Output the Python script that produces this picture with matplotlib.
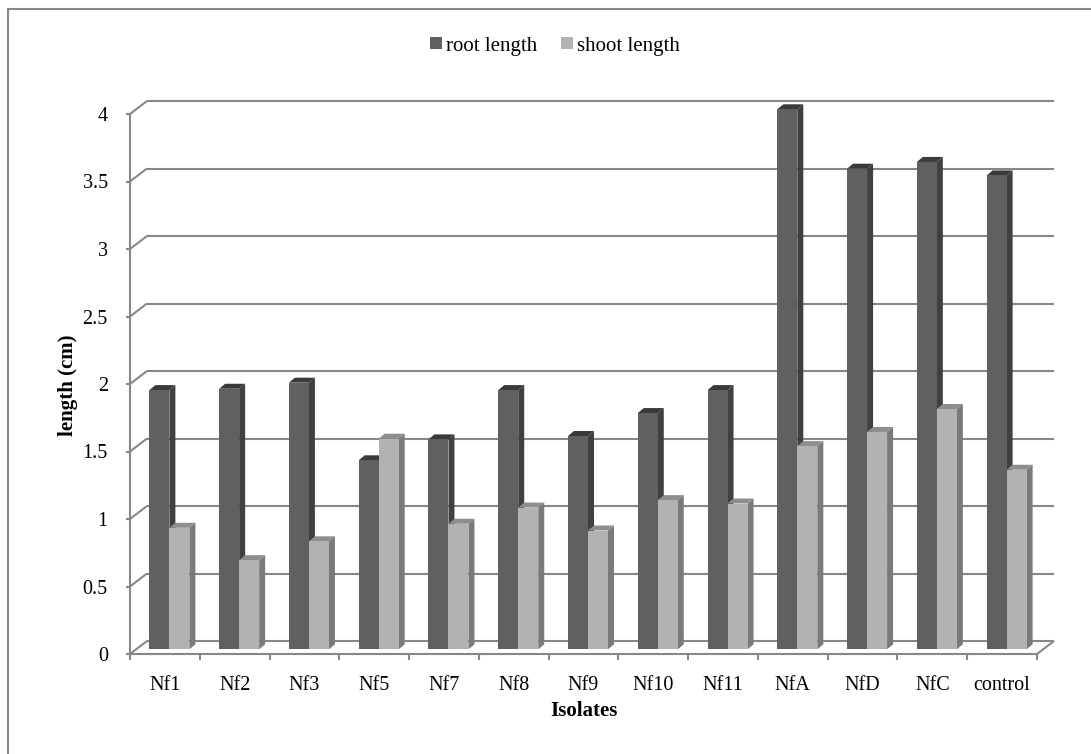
import matplotlib
matplotlib.use("Agg")
import matplotlib.pyplot as plt
import numpy as np
from matplotlib.patches import Polygon, Patch, Rectangle
from matplotlib.lines import Line2D
from matplotlib.transforms import IdentityTransform

# ---- data ----
categories = ["Nf1", "Nf2", "Nf3", "Nf5", "Nf7", "Nf8", "Nf9", "Nf10", "Nf11",
              "NfA", "NfD", "NfC", "control"]
root_length = [1.92, 1.93, 1.975, 1.40, 1.555, 1.92, 1.58, 1.75, 1.92,
               4.00, 3.56, 3.61, 3.51]
shoot_length = [0.90, 0.66, 0.80, 1.56, 0.93, 1.05, 0.88, 1.105, 1.08,
                1.505, 1.61, 1.78, 1.33]
yticks = [0, 0.5, 1, 1.5, 2, 2.5, 3, 3.5, 4]
series_names = ["root length", "shoot length"]

FONT = "Liberation Serif"
plt.rcParams["font.family"] = [FONT, "DejaVu Serif"]

W, H, DPI = 1091, 754, 100
fig = plt.figure(figsize=(W / DPI, H / DPI), dpi=DPI)
fig.patch.set_facecolor("white")

left_px, right_px, bot_px, top_px = 130, 1037, 654, 114
ax = fig.add_axes([left_px / W, (H - bot_px) / H, (right_px - left_px) / W, (bot_px - top_px) / H])
ax.set_xlim(-0.5, len(categories) - 0.5)
ax.set_ylim(0, 4)
ax.patch.set_visible(False)

GRID = "#878787"
LW = 1.5
BACK = (17, 13)      # back wall offset (px)
BARF = (4.5, 4.7)    # bar front face offset
DEPTH = (6, 5)       # bar depth

idt = IdentityTransform()


def D(x, y, dx=0.0, dy=0.0):
    p = ax.transData.transform((x, y))
    return (p[0] + dx, p[1] + dy)


def line(p1, p2, z=1, color=GRID, lw=LW):
    ax.add_line(Line2D([p1[0], p2[0]], [p1[1], p2[1]], transform=idt, color=color,
                       lw=lw, clip_on=False, zorder=z, solid_capstyle="butt"))


x0, x1 = -0.5, len(categories) - 0.5
# back wall gridlines and left diagonals
for v in yticks:
    line(D(x0, v, *BACK), D(x1, v, *BACK), z=1)
    line(D(x0, v), D(x0, v, *BACK), z=1)
# right floor diagonal
line(D(x1, 0), D(x1, 0, *BACK), z=1)

# ---- 3D bars ----
bw = 20 / ((right_px - left_px) / len(categories))
colors = [("#606060", "#404040", "#3a3a3a"), ("#b2b2b2", "#7a7a7a", "#8e8e8e")]
z = 5
for i in range(len(categories)):
    for s, vals in enumerate([root_length, shoot_length]):
        v = vals[i]
        xl = i - bw + s * bw
        xr = xl + bw
        front, side, top = colors[s]
        fx, fy = BARF
        bx, by = fx + DEPTH[0], fy + DEPTH[1]
        # side face
        sp = [D(xr, 0, fx, fy), D(xr, v, fx, fy), D(xr, v, bx, by), D(xr, 0, bx, by)]
        ax.add_patch(Polygon(sp, closed=True, transform=idt, facecolor=side,
                             edgecolor="none", clip_on=False, zorder=z))
        # top face
        tp = [D(xl, v, fx, fy), D(xr, v, fx, fy), D(xr, v, bx, by), D(xl, v, bx, by)]
        ax.add_patch(Polygon(tp, closed=True, transform=idt, facecolor=top,
                             edgecolor="none", clip_on=False, zorder=z))
        # front face
        fp = [D(xl, 0, fx, fy), D(xr, 0, fx, fy), D(xr, v, fx, fy), D(xl, v, fx, fy)]
        ax.add_patch(Polygon(fp, closed=True, transform=idt, facecolor=front,
                             edgecolor="none", clip_on=False, zorder=z))
        z += 1

# ---- axes styling ----
for sp in ["top", "right"]:
    ax.spines[sp].set_visible(False)
for sp in ["left", "bottom"]:
    ax.spines[sp].set_color(GRID)
    ax.spines[sp].set_linewidth(LW)
    ax.spines[sp].set_zorder(50)

ax.set_yticks(yticks)
ax.set_yticklabels([f"{t:g}" for t in yticks])
ax.tick_params(axis="y", direction="out", length=3, width=LW, color=GRID,
               labelsize=14.5, pad=13)
ax.set_xticks(np.arange(len(categories)))
ax.set_xticklabels(categories)
ax.tick_params(axis="x", which="major", length=0, labelsize=14.5, pad=16)
ax.set_xticks(np.arange(len(categories) + 1) - 0.5, minor=True)
ax.tick_params(axis="x", which="minor", direction="out", length=4, width=LW, color=GRID)

fig.text(68 / W, 1 - 385 / H, "length (cm)", rotation=90, ha="center", va="center",
         fontsize=15, fontweight="bold", family=FONT)
fig.text(584 / W, 1 - 711 / H, "Isolates", ha="center", va="center",
         fontsize=15, fontweight="bold", family=FONT)

handles = [Patch(facecolor=colors[0][0], edgecolor="none"),
           Patch(facecolor=colors[1][0], edgecolor="none")]
fig.legend(handles, series_names, loc="center", bbox_to_anchor=(555 / W, 1 - 46 / H),
           ncol=2, frameon=False, fontsize=15, handlelength=0.55, handleheight=0.55,
           handletextpad=0.2, columnspacing=1.15, borderpad=0, borderaxespad=0)

# figure border (top and left visible)
fig.patches.append(Rectangle((8 / W, -0.2), 1.2, 1.2 + (1 - 9 / H) - 1.0 + 0.0 + 0.0,
                             transform=fig.transFigure, fill=False, edgecolor=GRID,
                             lw=LW, clip_on=False))

fig.savefig("out.png", dpi=DPI)
